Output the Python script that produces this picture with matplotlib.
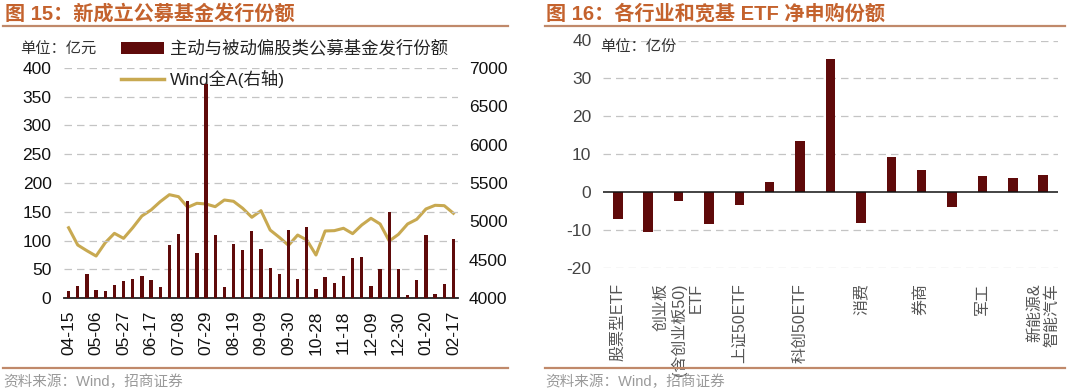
import matplotlib
matplotlib.use("Agg")
import matplotlib.pyplot as plt
from matplotlib.lines import Line2D
from matplotlib.patches import Patch
import numpy as np

plt.rcParams['font.family'] = ['Liberation Sans', 'Noto Sans CJK SC', 'DejaVu Sans']
plt.rcParams['axes.unicode_minus'] = False

# ---------------- data: left chart ----------------
issue_share = [13, 22, 42, 14, 13, 23, 30, 34, 39, 31, 20, 92, 111, 168, 78, 372,
               109, 20, 94, 83, 117, 86, 53, 43, 118, 34, 124, 16, 37, 26, 38, 70,
               72, 21, 50, 149, 50, 5, 32, 110, 8, 25, 102]
wind_all_a = [4918, 4693, 4619, 4550, 4723, 4845, 4780, 4918, 5071, 5149, 5257, 5348,
              5322, 5184, 5236, 5227, 5192, 5279, 5262, 5171, 5054, 5140, 4888, 4793,
              4689, 4823, 4758, 4563, 4876, 4880, 4911, 4841, 4954, 5041, 4967, 4745,
              4832, 4967, 5028, 5162, 5210, 5205, 5106]
date_ticks = ['04-15', '05-06', '05-27', '06-17', '07-08', '07-29', '08-19', '09-09',
              '09-30', '10-28', '11-18', '12-09', '12-30', '01-20', '02-17']
bar_label = '主动与被动偏股类公募基金发行份额'
line_label = 'Wind全A(右轴)'

# ---------------- data: right chart ----------------
etf_values = [-7.1, -10.6, -2.2, -8.4, -3.5, 2.7, 13.4, 35.2, -8.0, 9.3, 5.9, -3.8, 4.2, 3.8, 4.6]
etf_labels = ['股票型ETF', '', '创业板\n(含创业板50)\nETF', '', '上证50ETF', '', '科创50ETF', '',
              '消费', '', '券商', '', '军工', '', '新能源&\n智能汽车']

W, H = 1070, 392
fig = plt.figure(figsize=(W / 100, H / 100), dpi=100)

def fx(px):
    return px / W

def fy(py):
    return 1 - py / H

title_color = '#C4622D'
rule_color = '#C0896A'
bar_color = '#5F0A0A'
gold = '#C8A951'
grid_color = '#C4C4C4'

# titles, rules, sources
fig.text(fx(5), fy(14), '图 15：新成立公募基金发行份额', fontsize=14.5, fontweight='bold',
         color=title_color, va='center', ha='left')
fig.text(fx(546), fy(14), '图 16：各行业和宽基 ETF 净申购份额', fontsize=14.5, fontweight='bold',
         color=title_color, va='center', ha='left')
for x0, x1 in [(3, 508), (545, 1065)]:
    fig.add_artist(Line2D([fx(x0), fx(x1)], [fy(26), fy(26)], color=rule_color, lw=1.6))
    fig.add_artist(Line2D([fx(x0), fx(x1)], [fy(368), fy(368)], color=rule_color, lw=1.6))
fig.text(fx(3), fy(382), '资料来源：Wind，招商证券', fontsize=10.5, color='#9A9A9A', va='center')
fig.text(fx(545), fy(382), '资料来源：Wind，招商证券', fontsize=10.5, color='#9A9A9A', va='center')

# ---------------- left chart ----------------
axL = fig.add_axes([fx(64), fy(298.3), fx(458) - fx(64), fy(67.7) - fy(298.3)])
axR = axL.twinx()
x = np.arange(len(issue_share))
axR.plot(x, wind_all_a, color=gold, lw=2.2, solid_joinstyle='round')
bars = axL.bar(x, issue_share, width=0.36, color=bar_color, zorder=3)
axL.set_zorder(axR.get_zorder() + 1)
axL.patch.set_visible(False)

axL.set_xlim(-0.5, len(issue_share) - 0.5)
axL.set_ylim(0, 400)
axR.set_ylim(4000, 7000)
axL.set_yticks(np.arange(0, 401, 50))
axR.set_yticks(np.arange(4000, 7001, 500))
axL.set_xticks(np.arange(0, len(issue_share), 3))
axL.set_xticklabels(date_ticks, rotation=90, fontsize=12.5)
axL.tick_params(axis='x', length=0, pad=9, colors='#111111')
axL.tick_params(axis='y', length=0, pad=9, labelsize=12.5, colors='#111111')
axR.tick_params(axis='y', length=0, pad=8, labelsize=12.5, colors='#111111')
axL.yaxis.grid(True, color=grid_color, lw=0.9, linestyle=(0, (6, 4)))
axL.set_axisbelow(True)
for ax in (axL, axR):
    for s in ax.spines.values():
        s.set_visible(False)
axL.spines['bottom'].set_visible(True)
axL.spines['bottom'].set_color('#222222')
axL.spines['bottom'].set_linewidth(1.3)

fig.text(fx(20), fy(50), '单位：亿元', fontsize=11, color='#333333', va='center')
handles = [Patch(facecolor=bar_color, edgecolor='none'), Line2D([], [], color=gold, lw=2.5)]
leg = axL.legend(handles, [bar_label, line_label], loc='upper left',
                 bbox_to_anchor=(fx(121), fy(40)), bbox_transform=fig.transFigure,
                 frameon=False, fontsize=12.5, borderpad=0, borderaxespad=0,
                 handlelength=2.5, handleheight=0.7, handletextpad=0.3, labelspacing=0.75)
for t in leg.get_texts():
    t.set_color('#222222')
leg.set_zorder(1)

# ---------------- right chart ----------------
ax2 = fig.add_axes([fx(602.6), fy(268), fx(1058.4) - fx(602.6), fy(40.5) - fy(268)])
xe = np.arange(len(etf_values))
ax2.bar(xe, etf_values, width=0.31, color=bar_color, zorder=3)
ax2.set_xlim(-0.5, len(etf_values) - 0.5)
ax2.set_ylim(-20, 40)
ax2.set_yticks(np.arange(-20, 41, 10))
for yv in [-20, -10, 10, 20, 30, 40]:
    ax2.axhline(yv, color=grid_color, lw=0.9, linestyle=(0, (6, 4)), zorder=1)
ax2.axhline(0, color='#111111', lw=1.1, zorder=4)
for s in ax2.spines.values():
    s.set_visible(False)
ax2.set_xticks(xe)
ax2.set_xticklabels(etf_labels, rotation=90, fontsize=11.5, va='top', ha='center',
                    linespacing=1.15)
for t in ax2.get_xticklabels():
    t.set_multialignment('right')
ax2.tick_params(axis='x', length=0, pad=11, colors='#555555')
ax2.tick_params(axis='y', length=0, pad=8, labelsize=12.5, colors='#444444')
ax2.text(fx(600), fy(47), '单位：亿份', transform=fig.transFigure, fontsize=11,
         color='#333333', va='center', ha='left')

fig.savefig('out.png', dpi=100)
